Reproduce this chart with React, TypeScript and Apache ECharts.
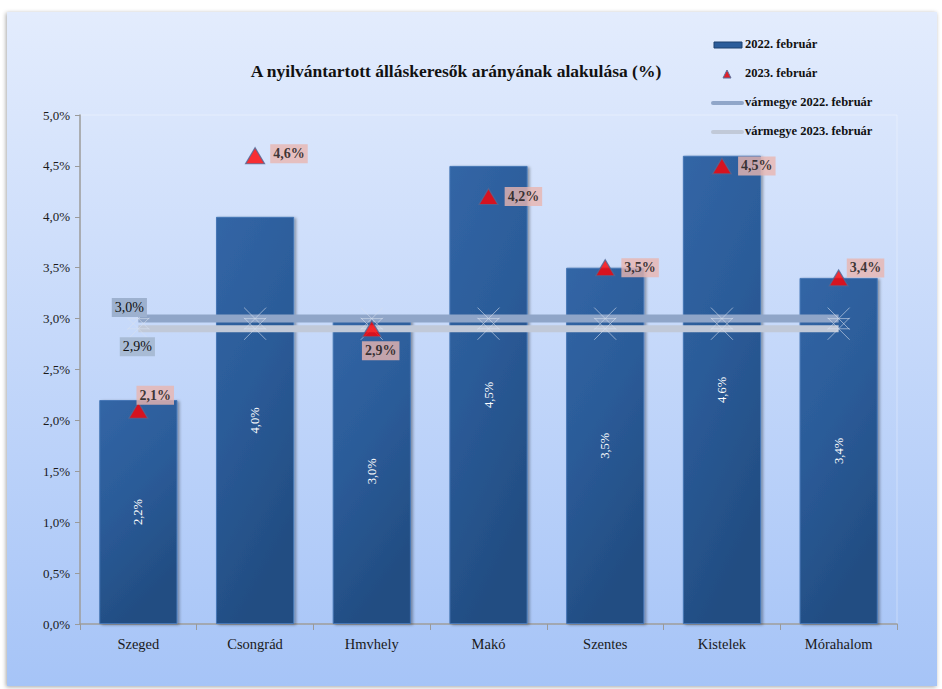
import React, { useEffect, useRef } from "react";
import * as echarts from "echarts";

const categories = ["Szeged", "Csongrád", "Hmvhely", "Makó", "Szentes", "Kistelek", "Mórahalom"];
const feb2022 = [2.2, 4.0, 3.0, 4.5, 3.5, 4.6, 3.4];
const feb2023 = [2.1, 4.6, 2.9, 4.2, 3.5, 4.5, 3.4];
const county2022 = [3.0, 3.0, 3.0, 3.0, 3.0, 3.0, 3.0];
const county2023 = [2.9, 2.9, 2.9, 2.9, 2.9, 2.9, 2.9];
const yTicks = { min: 0, max: 5, interval: 0.5 };

const seriesNames = ["2022. február", "2023. február", "vármegye 2022. február", "vármegye 2023. február"];
const title = "A nyilvántartott álláskeresők arányának alakulása (%)";

// label offsets for triangle labels (style only)
const triLabelOffsets: [number, number][] = [
  [-17, -15],
  [0, -2],
  [-25, 22],
  [1, 0],
  [1, 0],
  [1, 0],
  [-7, -10],
];

const FONT = "'Liberation Serif', 'DejaVu Serif', serif";
const fmt = (v: number) => v.toFixed(1).replace(".", ",") + "%";
const STAR = "path://M0,0L20,20M20,0L0,20M0,10L20,10";

export default function App() {
  const ref = useRef<HTMLDivElement>(null);
  useEffect(() => {
    document.body.style.margin = "0";
    const chart = echarts.init(ref.current!, null, { renderer: "svg" });
    const barGrad = new echarts.graphic.LinearGradient(0, 0, 0.35, 1, [
      { offset: 0, color: "#3266a6" },
      { offset: 0.5, color: "#2b5b98" },
      { offset: 1, color: "#224d82" },
    ]);
    const legendX = 714;
    const legendYs = [45, 74, 103, 132];
    const legendText = (i: number) => ({
      type: "text",
      left: 745,
      top: legendYs[i] - 8,
      z: 100,
      style: { text: seriesNames[i], font: `bold 12.5px ${FONT}`, fill: "#111" },
    });
    chart.setOption({
      animation: false,
      backgroundColor: "#ffffff",
      textStyle: { fontFamily: FONT },
      title: {
        text: title,
        left: 451,
        top: 57,
        textAlign: "center",
        textStyle: { fontFamily: FONT, fontSize: 17.5, fontWeight: "bold", color: "#111" },
      },
      graphic: [
        {
          type: "rect",
          z: -10,
          shape: { x: 7, y: 12, width: 930, height: 674 },
          style: {
            fill: new echarts.graphic.LinearGradient(0, 0, 0, 1, [
              { offset: 0, color: "#e3ecfd" },
              { offset: 1, color: "#a6c4f7" },
            ]),
            shadowBlur: 4,
            shadowColor: "rgba(0,0,0,0.35)",
            shadowOffsetX: -1,
            shadowOffsetY: 1,
          },
        },
        {
          type: "rect",
          z: 100,
          shape: { x: legendX, y: legendYs[0] - 3, width: 28, height: 6 },
          style: { fill: "#2b5c9a", stroke: "#1d416f", lineWidth: 1 },
        },
        legendText(0),
        {
          type: "polygon",
          z: 100,
          shape: { points: [[727, legendYs[1] - 4], [731, legendYs[1] + 4], [723, legendYs[1] + 4]] },
          style: { fill: "#e0202a", stroke: "#5a6f9a", lineWidth: 1 },
        },
        legendText(1),
        {
          type: "line",
          z: 100,
          shape: { x1: 713, y1: legendYs[2], x2: 742, y2: legendYs[2] },
          style: { stroke: "#90a6c9", lineWidth: 4, lineCap: "round" },
        },
        legendText(2),
        {
          type: "line",
          z: 100,
          shape: { x1: 713, y1: legendYs[3], x2: 742, y2: legendYs[3] },
          style: { stroke: "#c1c9d8", lineWidth: 4, lineCap: "round" },
        },
        legendText(3),
      ],
      grid: {
        left: 80,
        right: 45,
        top: 115,
        bottom: 65,
        show: true,
        backgroundColor: "transparent",
        borderColor: "rgba(255,255,255,0.35)",
        borderWidth: 1,
      },
      xAxis: {
        type: "category",
        data: categories,
        axisLine: { lineStyle: { color: "#9a9a9a", width: 1.5 } },
        axisTick: { show: true, length: 6, lineStyle: { color: "#9a9a9a" } },
        axisLabel: { fontFamily: FONT, fontSize: 14.5, color: "#1a1a1a", margin: 12 },
      },
      yAxis: {
        type: "value",
        min: yTicks.min,
        max: yTicks.max,
        interval: yTicks.interval,
        axisLine: { show: true, lineStyle: { color: "#9a9a9a", width: 1.5 } },
        axisTick: { show: true, length: 5, lineStyle: { color: "#9a9a9a" } },
        splitLine: { show: false },
        axisLabel: { fontFamily: FONT, fontSize: 13, color: "#1a1a1a", margin: 10, formatter: (v: number) => fmt(v) },
      },
      series: [
        {
          name: seriesNames[0],
          type: "bar",
          data: feb2022,
          barWidth: "67%",
          z: 2,
          itemStyle: {
            color: barGrad,
            borderColor: "#4677b6",
            borderWidth: 1,
            shadowBlur: 3,
            shadowColor: "rgba(0,0,0,0.35)",
            shadowOffsetX: 2,
            shadowOffsetY: 1,
          },
          label: {
            show: true,
            position: "inside",
            rotate: 90,
            color: "#ffffff",
            fontFamily: FONT,
            fontSize: 12.5,
            formatter: (p: any) => fmt(p.value),
          },
        },
        {
          name: seriesNames[2],
          type: "line",
          data: county2022.map((v, i) =>
            i === 0
              ? {
                  value: v,
                  label: {
                    show: true,
                    position: "inside",
                    offset: [-9, -11],
                    formatter: (p: any) => fmt(p.value),
                    backgroundColor: "#9db1cf",
                    padding: [3, 3, 2, 3],
                    color: "#111",
                    fontFamily: FONT,
                    fontSize: 14,
                  },
                }
              : v
          ),
          z: 3,
          symbol: STAR,
          symbolSize: 22,
          showAllSymbol: true,
          lineStyle: { color: "#8fa5c8", width: 8 },
          itemStyle: { color: "transparent", borderColor: "rgba(215,224,238,0.6)", borderWidth: 1 },
        },
        {
          name: seriesNames[3],
          type: "line",
          data: county2023.map((v, i) =>
            i === 0
              ? {
                  value: v,
                  label: {
                    show: true,
                    position: "inside",
                    offset: [-1, 18],
                    formatter: (p: any) => fmt(p.value),
                    backgroundColor: "#a8bbd5",
                    padding: [3, 3, 2, 3],
                    color: "#111",
                    fontFamily: FONT,
                    fontSize: 14,
                  },
                }
              : v
          ),
          z: 3,
          symbol: STAR,
          symbolSize: 22,
          showAllSymbol: true,
          lineStyle: { color: "#c1c9d8", width: 7 },
          itemStyle: { color: "transparent", borderColor: "rgba(215,224,238,0.6)", borderWidth: 1 },
        },
        {
          name: seriesNames[1],
          type: "scatter",
          data: feb2023.map((v, i) => ({
            value: v,
            label: { offset: triLabelOffsets[i] },
          })),
          z: 5,
          symbol: "triangle",
          symbolSize: [19, 16],
          itemStyle: { color: "#ff0000", borderColor: "#4f6896", borderWidth: 1.2 },
          label: {
            show: true,
            position: "right",
            distance: 5,
            formatter: (p: any) => fmt(p.value),
            backgroundColor: "#e8b5b0",
            padding: [3, 3, 2, 3],
            color: "#111",
            fontFamily: FONT,
            fontWeight: "bold",
            fontSize: 14,
          },
        },
      ],
    });
    return () => chart.dispose();
  }, []);
  return <div ref={ref} style={{ width: 942, height: 689 }} />;
}
